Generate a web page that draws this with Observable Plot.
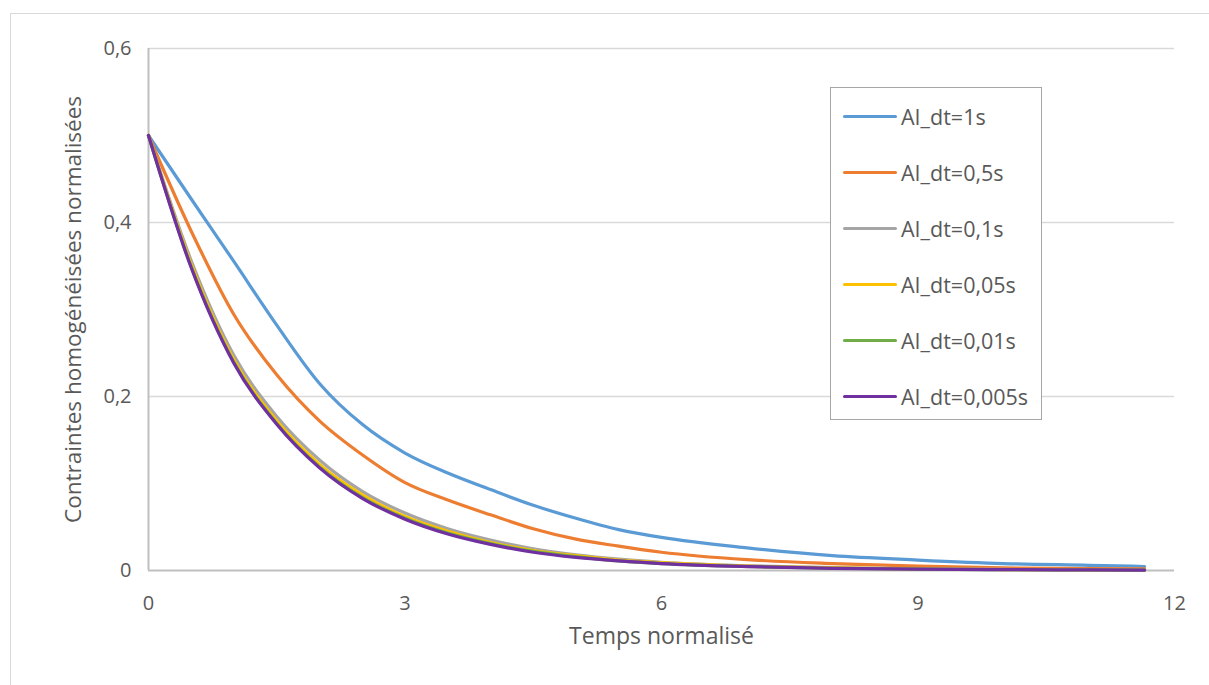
<!DOCTYPE html>
<html>
<head>
<meta charset="utf-8">
<script src="https://cdn.jsdelivr.net/npm/d3@7"></script>
<script src="https://cdn.jsdelivr.net/npm/@observablehq/plot@0.6"></script>
<style>
  html, body { margin: 0; padding: 0; background: #fff; overflow: hidden; }
  #wrap { position: relative; width: 1209px; height: 685px; font-family: "Open Sans", sans-serif; }
  #frame { position: absolute; left: 10px; top: 13px; width: 1260px; height: 720px; border: 1px solid #D9D9D9; box-sizing: border-box; }
  #chart { position: absolute; left: 0; top: 0; }
  #legend { position: absolute; left: 830px; top: 87px; width: 212px; height: 333px; border: 1px solid #A6A6A6; box-sizing: border-box; background: #fff; }
  .item { position: absolute; left: 12px; height: 26px; display: flex; align-items: center; font-size: 21.5px; color: #595959; white-space: nowrap; }
  .sw { width: 54px; height: 3px; margin-right: 4px; border-radius: 1.5px; }
</style>
</head>
<body>
<div id="wrap">
  <div id="frame"></div>
  <div id="chart"></div>
  <div id="legend"></div>
</div>
<script>
// Normalised time (shared by all series)
const times = [0, 0.5, 1, 1.5, 2, 2.5, 3, 3.5, 4, 4.5, 5, 5.5, 6, 7, 8, 9, 10, 11, 11.65];

const seriesNames = ["AI_dt=1s", "AI_dt=0,5s", "AI_dt=0,1s", "AI_dt=0,05s", "AI_dt=0,01s", "AI_dt=0,005s"];
const seriesColors = ["#5B9BD5", "#ED7D31", "#A5A5A5", "#FFC000", "#70AD47", "#7030A0"];

const dt1    = [0.5, 0.427, 0.355, 0.282, 0.215, 0.168, 0.135, 0.112, 0.093, 0.075, 0.060, 0.047, 0.038, 0.026, 0.017, 0.012, 0.008, 0.006, 0.0046];
const dt05   = [0.5, 0.390, 0.294, 0.225, 0.172, 0.133, 0.101, 0.081, 0.064, 0.048, 0.036, 0.028, 0.021, 0.0125, 0.008, 0.005, 0.003, 0.0022, 0.002];
const dt01   = [0.5, 0.356, 0.247, 0.177, 0.127, 0.091, 0.066, 0.048, 0.035, 0.025, 0.018, 0.013, 0.0095, 0.0055, 0.0032, 0.0019, 0.0012, 0.0009, 0.0007];
const dt005  = [0.5, 0.352, 0.242, 0.172, 0.122, 0.087, 0.062, 0.045, 0.032, 0.023, 0.017, 0.012, 0.009, 0.005, 0.003, 0.0017, 0.0011, 0.0008, 0.0006];
const dt001  = [0.5, 0.349, 0.239, 0.169, 0.119, 0.084, 0.060, 0.043, 0.031, 0.022, 0.016, 0.011, 0.008, 0.0046, 0.0026, 0.0015, 0.001, 0.0007, 0.0005];
const dt0005 = [0.5, 0.348, 0.238, 0.168, 0.118, 0.083, 0.059, 0.042, 0.030, 0.021, 0.015, 0.011, 0.008, 0.0045, 0.0025, 0.0015, 0.001, 0.0007, 0.0005];

const seriesValues = [dt1, dt05, dt01, dt005, dt001, dt0005];

const xTicks = [0, 3, 6, 9, 12];
const yTicks = [0, 0.2, 0.4, 0.6];
const xTitle = "Temps normalisé";
const yTitle = "Contraintes homogénéisées normalisées";

const fmt = d => String(d).replace(".", ",");

const lineMarks = seriesValues.map((vals, i) =>
  Plot.line(times.map((t, j) => ({t, v: vals[j]})), {
    x: "t", y: "v", stroke: seriesColors[i], strokeWidth: 3.2, curve: "monotone-x"
  })
);

const chart = Plot.plot({
  width: 1209,
  height: 685,
  marginLeft: 148,
  marginRight: 35,
  marginTop: 48,
  marginBottom: 115,
  style: { fontFamily: "Open Sans, sans-serif", color: "#595959", background: "transparent", overflow: "visible" },
  x: { domain: [0, 12] },
  y: { domain: [0, 0.6] },
  marks: [
    Plot.ruleY(yTicks.filter(d => d > 0), { stroke: "#D9D9D9", strokeWidth: 1.3 }),
    Plot.ruleY([0], { stroke: "#BFBFBF", strokeWidth: 2 }),
    Plot.ruleX([0], { stroke: "#BFBFBF", strokeWidth: 2 }),
    Plot.axisX({ ticks: xTicks, tickSize: 0, tickPadding: 25, tickFormat: fmt, label: null, fill: "#595959", fontSize: 20 }),
    Plot.axisY({ ticks: yTicks, tickSize: 0, tickPadding: 17, tickFormat: fmt, label: null, fill: "#595959", fontSize: 20 }),
    ...lineMarks,
    Plot.text([xTitle], { text: d => d, frameAnchor: "bottom", dy: 73, fontSize: 23, fill: "#595959" }),
    Plot.text([yTitle], { text: d => d, frameAnchor: "left", dx: -75, rotate: -90, textAnchor: "middle", fontSize: 22.5, fill: "#595959" })
  ]
});
document.getElementById("chart").appendChild(chart);

// Legend
const legend = document.getElementById("legend");
const rowY = [28, 84, 140, 196, 252, 308];
seriesNames.forEach((name, i) => {
  const item = document.createElement("div");
  item.className = "item";
  item.style.top = (rowY[i] - 13) + "px";
  const sw = document.createElement("div");
  sw.className = "sw";
  sw.style.background = seriesColors[i];
  const lab = document.createElement("span");
  lab.textContent = name;
  item.appendChild(sw);
  item.appendChild(lab);
  legend.appendChild(item);
});
</script>
</body>
</html>
